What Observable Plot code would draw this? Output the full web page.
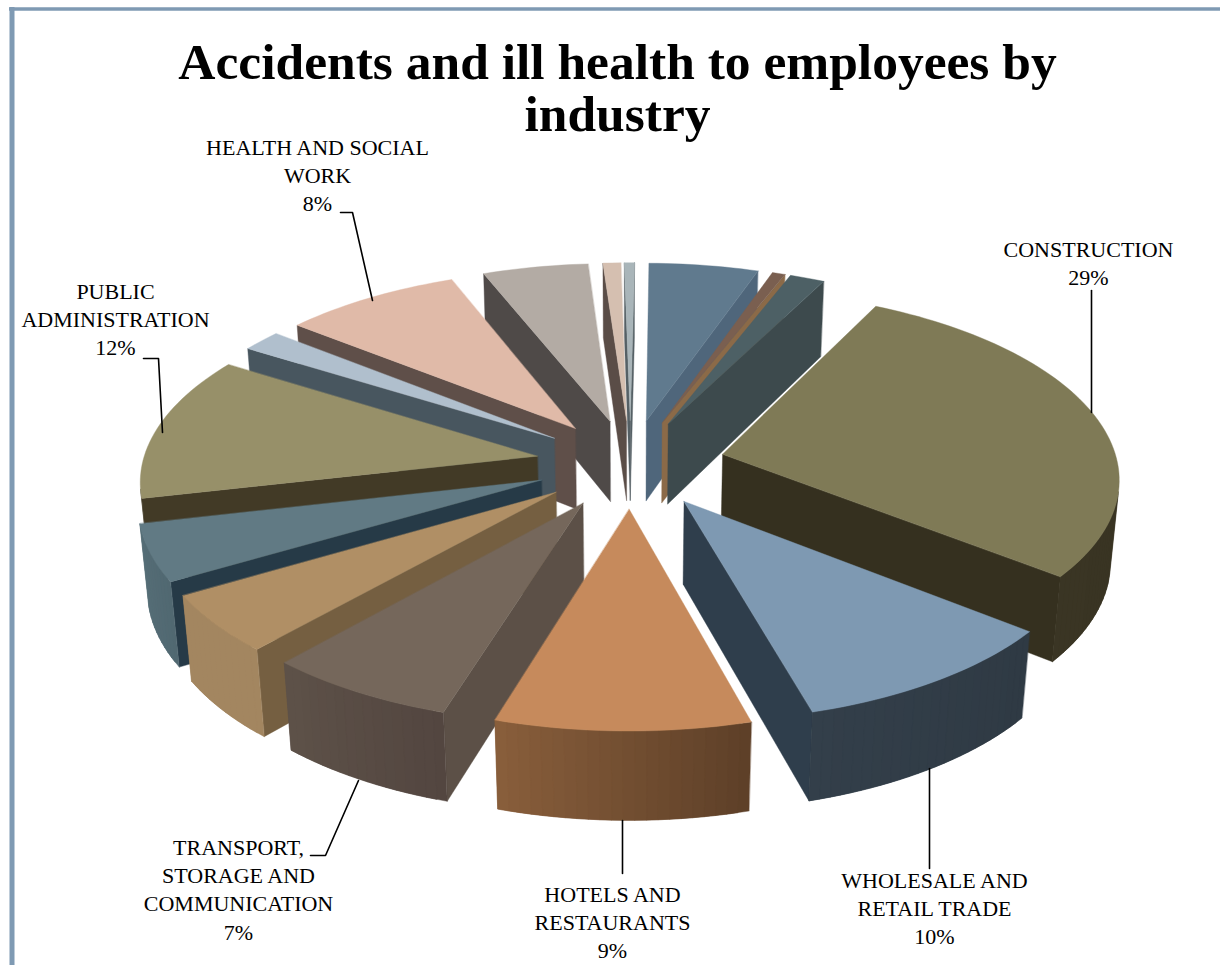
<!DOCTYPE html>
<html>
<head>
<meta charset="utf-8">
<style>html,body{margin:0;padding:0;background:#fff}</style>
<script src="https://cdn.jsdelivr.net/npm/d3@7"></script>
<script src="https://cdn.jsdelivr.net/npm/@observablehq/plot@0.6"></script>
</head>
<body>
<div id="chart"></div>
<script>
// Slices, clockwise from 12 o'clock (shares; only six are labelled there)
const categories = ["Agriculture","Mining","Manufacturing","Construction","Wholesale and retail trade","Hotels and restaurants","Transport, storage and communication","Financial","Real estate","Public administration","Education","Health and social work","Other services","Households","Extra-territorial"];
const shares = [5.08,0.6,1.62,28.2,10,9.03,6.8,5,4.86,12.5,1.85,8.25,4.9,0.83,0.47];
const topColors  = ["#607a8e","#7a5f50","#4d6065","#7f7a56","#7e99b2","#c68a5c","#75675b","#b08f65","#617a84","#979069","#b0bfcd","#e0baa8","#b3aba4","#d5bfb0","#a9b5b9"];
const sideColors = ["#4f667b","#8b6a48","#3d4a4d","#35301f","#2f3e4c","#6f4d30","#5c5047","#755f41","#263a47","#423a26","#48565f","#5f4f49","#4f4a48","#5a4d47","#556065"];
const wallStart  = ["#4f667b","#8b6a48","#3d4a4d","#35301f","#2f3a44","#5e4028","#534640","#a38660","#516871","#423a26","#48565f","#5f4f49","#4f4a48","#5a4d47","#556065"];
const wallEnd    = ["#4f667b","#8b6a48","#3d4a4d","#3a3524","#333f4a","#8a5f3c","#5e5249","#a38660","#566e77","#423a26","#48565f","#5f4f49","#4f4a48","#5a4d47","#556065"];

const titleText = "Accidents and ill health to employees by\nindustry";
const labelTexts = ["HEALTH AND SOCIAL\nWORK\n8%","PUBLIC\nADMINISTRATION\n12%","CONSTRUCTION\n29%","WHOLESALE AND\nRETAIL TRADE\n10%","HOTELS AND\nRESTAURANTS\n9%","TRANSPORT,\nSTORAGE AND\nCOMMUNICATION\n7%"];
const labelX = [317,115,1088,934,612,238];
const labelY = [134,278,236,867,881,834];
const leaders = [
  [[340,212],[352,212],[372,300]],
  [[143,358],[158,358],[162,432]],
  [[1091,290],[1091,412]],
  [[929,868],[929,768]],
  [[622,873],[622,820]],
  [[310,855],[325,855],[358,780]]
];

// Tilted, perspective view of the exploded pie
const cx = 630, cy = 463, Rx = 395, Ry = 185, persp = 0.115, shrink = 0.018, depth = 83, explode = 0.24, startDeg = 0.7;
function project(X, Y, z) {
  const w = 1 / (1 - persp * Y + shrink * z);
  return [cx + Rx * X * w, cy + (Ry * Y + depth * z) * w];
}
const area = (pts) => d3.polygonArea(pts);
const total = d3.sum(shares);
const toRad = Math.PI / 180;
let acc = startDeg;
const slices = shares.map((s, i) => {
  const a0 = acc, a1 = acc + s / total * 360;
  acc = a1;
  return {i, a0, a1, mid: (a0 + a1) / 2};
});
slices.sort((a, b) => Math.cos(b.mid * toRad) - Math.cos(a.mid * toRad));

const rows = [];
let faceId = 0;
function addFace(pts, fill) {
  const id = faceId++;
  for (const p of pts) rows.push({face: id, px: p[0], py: p[1], fill});
}
for (const s of slices) {
  const m = s.mid * toRad;
  const tx = explode * Math.sin(m), ty = -explode * Math.cos(m);
  const n = Math.max(2, Math.ceil((s.a1 - s.a0) / 1.5));
  const ring = [];
  for (let k = 0; k <= n; k++) {
    const a = (s.a0 + (s.a1 - s.a0) * k / n) * toRad;
    ring.push([tx + Math.sin(a), ty - Math.cos(a)]);
  }
  const outline = [[tx, ty], ...ring];
  const last = outline.length - 1;
  const top = outline.map(q => project(q[0], q[1], 0));
  const bot = outline.map(q => project(q[0], q[1], 1));
  const sign = Math.sign(area(top));
  const wallColor = d3.interpolateRgb(wallStart[s.i], wallEnd[s.i]);
  const wall = (u, v, w, fill) => {
    const quad = [top[u], top[v], bot[v], bot[u]];
    if (Math.sign(area(quad)) !== sign) addFace([top[u], top[w], bot[w], bot[u]], fill);
  };
  // radial walls first, then the rim (each band overlaps the next), then the top
  wall(0, 1, 1, sideColors[s.i]);
  wall(last, 0, 0, sideColors[s.i]);
  for (let k = 1; k < last; k++) wall(k, k + 1, Math.min(k + 2, last), wallColor((k - 1) / (last - 1)));
  addFace(top, topColors[s.i]);
}

const labels = labelTexts.map((text, i) => ({text, x: labelX[i], y: labelY[i]}));
const leaderRows = leaders.flatMap((l, id) => l.map(p => ({id, x: p[0], y: p[1]})));

const fontFamily = "'Liberation Serif', serif";
const chart = Plot.plot({
  width: 1220, height: 965, margin: 0,
  x: {domain: [0, 1220], range: [0, 1220], axis: null},
  y: {domain: [0, 965], range: [0, 965], axis: null},
  style: {background: "#fff", fontFamily},
  marks: [
    Plot.ruleX([11.5], {y1: 7, y2: 965, stroke: "#7f9ab3", strokeWidth: 5}),
    Plot.ruleY([8.5], {x1: 9, x2: 1220, stroke: "#7f9ab3", strokeWidth: 3.5}),
    Plot.line(rows, {x: "px", y: "py", z: "face", fill: "fill", stroke: "fill", strokeWidth: 0.4, curve: "linear-closed"}),
    Plot.line(leaderRows, {x: "x", y: "y", z: "id", stroke: "#000", strokeWidth: 1.6}),
    Plot.text(labels, {x: "x", y: "y", text: "text", fontSize: 22, lineHeight: 28.4/22, lineAnchor: "top", fill: "#000", fontFamily}),
    Plot.text([titleText], {x: () => 617, y: () => 42, text: d => d, fontSize: 51.5, lineHeight: 52/51.5, lineAnchor: "top", fontWeight: "bold", fill: "#000", fontFamily})
  ]
});
document.getElementById("chart").appendChild(chart);
</script>
</body>
</html>
